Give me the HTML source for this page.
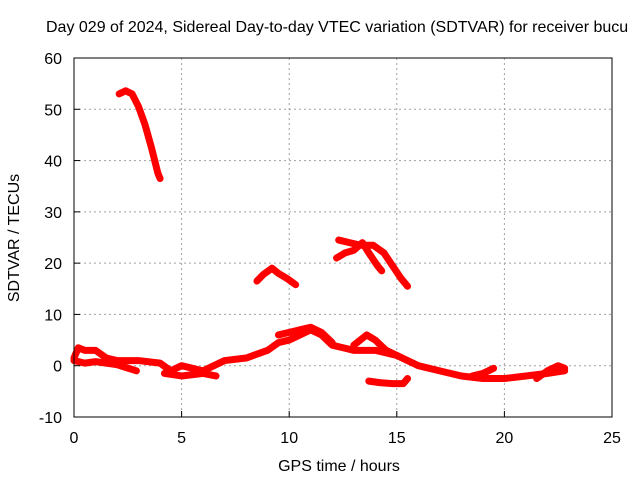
<!DOCTYPE html>
<html><head><meta charset="utf-8"><style>
body{margin:0;background:#fff;font-family:"Liberation Sans",sans-serif;}
svg text{font-family:"Liberation Sans",sans-serif;font-size:16px;fill:#000;}
</style></head><body>
<svg id="chart" width="640" height="480">
<text x="46" y="32">Day 029 of 2024, Sidereal Day-to-day VTEC variation (SDTVAR) for receiver bucu</text>
<g id="grid"></g>
<g id="series"></g>
<rect x="74" y="58" width="538" height="359" fill="none" stroke="#000" stroke-width="1"/>
<g id="axes"></g>
<text x="339" y="471" text-anchor="middle">GPS time / hours</text>
<text transform="translate(19,238) rotate(-90)" text-anchor="middle">SDTVAR / TECUs</text>
</svg>
<script>
const xTicks=[0,5,10,15,20,25];
const yTicks=[-10,0,10,20,30,40,50,60];
const segA=[[2.1,53],[2.4,53.6],[2.7,53],[3.0,50.5],[3.3,47],[3.6,42.5],[3.9,37.5],[4.0,36.5]];
const segB=[[8.5,16.5],[8.8,17.8],[9.2,19],[9.5,18],[9.9,17],[10.3,15.8]];
const segC=[[12.2,21],[12.6,22],[13.0,22.5],[13.4,24],[13.7,22],[14.1,19.5],[14.3,18.5]];
const segD=[[12.3,24.5],[12.8,24],[13.3,23.5],[13.9,23.5],[14.4,22],[14.8,19.5],[15.2,17],[15.5,15.5]];
const segE=[[13.7,-3],[14.2,-3.3],[14.8,-3.5],[15.3,-3.5],[15.5,-2.5]];
const segF=[[0,1.5],[0.2,3.5],[0.5,3],[1,3],[1.5,1.5],[2,1],[3,1],[4,0.5],[4.5,-1],[5,0],[6,-1],[7,1],[8,1.5],[9,3],[9.5,4.5],[10,5],[10.5,6],[11,7],[11.5,6],[12,4],[12.5,3.5],[13,3],[14,3],[15,2],[15.5,1],[16,0],[17,-1],[18,-2],[19,-2.5],[20,-2.5],[21,-2],[22,-1.5],[22.8,-1]];
const segG=[[0,1],[0.5,0.5],[1,0.8],[2,0.2],[2.9,-1]];
const segH=[[4.2,-1.5],[5,-2],[6,-1.5],[6.6,-2]];
const segI=[[9.5,6],[10,6.5],[10.5,7],[11,7.5],[11.5,6.5],[12,4.5]];
const segJ=[[13,4],[13.6,6],[14,5],[14.5,3],[15,2]];
const segK=[[18.5,-2],[19,-1.5],[19.5,-0.5]];
const segL=[[21.5,-2.5],[22,-1],[22.5,0],[22.8,-0.5]];
const series=[segA,segB,segC,segD,segE,segF,segG,segH,segI,segJ,segK,segL];
const X=v=>74+v*(538/25);
const Y=v=>417-(v+10)*(359/70);
const NS="http://www.w3.org/2000/svg";
const grid=document.getElementById('grid'),axes=document.getElementById('axes'),sg=document.getElementById('series');
function mk(tag,at,p){const e=document.createElementNS(NS,tag);for(const k in at)e.setAttribute(k,at[k]);p.appendChild(e);return e;}
xTicks.forEach(t=>{
 const gl=mk('line',{x1:X(t),x2:X(t),y1:58,y2:417,stroke:'#a0a0a0','stroke-dasharray':'2,3'},grid);
 
 
 mk('line',{x1:X(t),x2:X(t),y1:417,y2:411,stroke:'#000'},axes);
 const tx=mk('text',{x:X(t),y:443,'text-anchor':'middle'},axes);tx.textContent=t;
 
 
});
yTicks.forEach(t=>{
 const gl=mk('line',{x1:74,x2:612,y1:Y(t),y2:Y(t),stroke:'#a0a0a0','stroke-dasharray':'2,3'},grid);
 
 
 mk('line',{x1:74,x2:80,y1:Y(t),y2:Y(t),stroke:'#000'},axes);
 const tx=mk('text',{x:62,y:Y(t)+6,'text-anchor':'end'},axes);tx.textContent=t;
 
 
});
series.forEach(s=>{
 const pl=mk('polyline',{points:s.map(p=>X(p[0])+','+Y(p[1])).join(' '),fill:'none',stroke:'#ff0000','stroke-width':7,'stroke-linejoin':'round','stroke-linecap':'round'},sg);
 
 
});
</script>
</body></html>
